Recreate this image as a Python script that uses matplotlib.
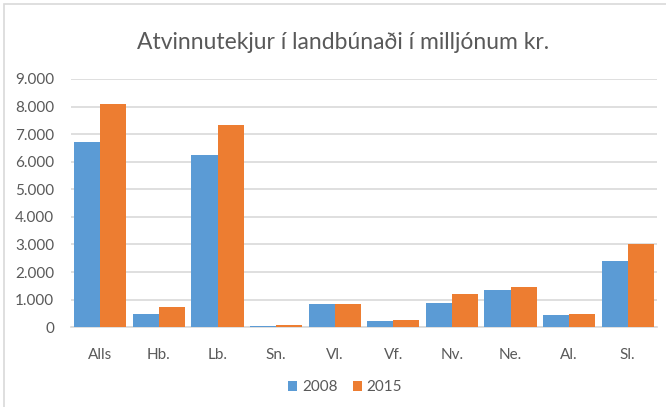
import matplotlib
matplotlib.use("Agg")
import matplotlib.pyplot as plt
import numpy as np
from matplotlib.patches import Rectangle

categories = ["Alls", "Hb.", "Lb.", "Sn.", "Vl.", "Vf.", "Nv.", "Ne.", "Al.", "Sl."]
vals_2008 = [6720, 470, 6230, 50, 835, 240, 870, 1355, 435, 2390]
vals_2015 = [8090, 725, 7335, 85, 835, 275, 1195, 1450, 470, 3020]
yticks = [0, 1000, 2000, 3000, 4000, 5000, 6000, 7000, 8000, 9000]
ytick_labels = ["0", "1.000", "2.000", "3.000", "4.000", "5.000", "6.000", "7.000", "8.000", "9.000"]

plt.rcParams['font.family'] = ['Lato', 'DejaVu Sans']
txt = '#595959'
grid = '#D9D9D9'

fig = plt.figure(figsize=(6.66, 4.07), dpi=100)
fig.patches.append(Rectangle((0.006, -0.01), 1.0, 1.0, transform=fig.transFigure,
                             fill=False, edgecolor=grid, linewidth=1.2))
ax = fig.add_axes([0.1066, 0.196, 0.88, 0.61])

x = np.arange(len(categories))
w = 0.445
ax.bar(x - w/2, vals_2008, w, color='#5B9BD5', label='2008', zorder=3)
ax.bar(x + w/2, vals_2015, w, color='#ED7D31', label='2015', zorder=3)

ax.set_xlim(-0.5, len(categories) - 0.5)
ax.set_ylim(0, 9000)
ax.set_yticks(yticks)
ax.set_yticklabels(ytick_labels)
ax.set_xticks(x)
ax.set_xticklabels(categories)
ax.tick_params(axis='both', length=0, colors=txt, labelsize=11)
ax.tick_params(axis='x', pad=15)
ax.tick_params(axis='y', pad=12)
ax.yaxis.grid(True, color=grid, linewidth=1.2, zorder=0)
for s in ['top', 'right', 'left']:
    ax.spines[s].set_visible(False)
ax.spines['bottom'].set_color(grid)
ax.spines['bottom'].set_linewidth(1.2)

fig.text(0.515, 0.895, "Atvinnutekjur í landbúnaði í milljónum kr.", ha='center', va='center',
         fontsize=16.5, color=txt)

leg = fig.legend(loc='center', bbox_to_anchor=(0.518, 0.048), ncol=2, frameon=False,
                 fontsize=11, handlelength=0.6, handleheight=0.6, handletextpad=0.3,
                 columnspacing=1.0)
for t in leg.get_texts():
    t.set_color(txt)

fig.savefig('out.png', dpi=100)
